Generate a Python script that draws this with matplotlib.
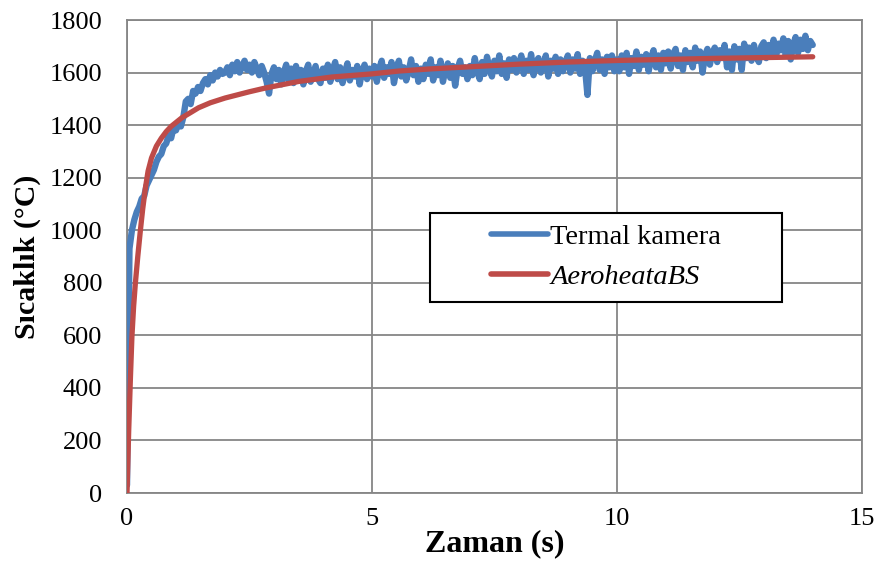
import numpy as np
import matplotlib
matplotlib.use("Agg")
import matplotlib.pyplot as plt
from matplotlib.patches import Rectangle

# Termal kamera: one reading every 0.05 s from 0 to 14 s
dt = 0.05
termal = [
    30, 930, 1000, 1040, 1070, 1090, 1120, 1130, 1170, 1190, 1210, 1230, 1260, 1280, 1290, 1320, 1330, 1360, 1350, 1390,
    1380, 1410, 1395, 1430, 1490, 1500, 1480, 1530, 1520, 1545, 1530, 1560, 1575, 1555, 1590, 1570, 1600, 1585, 1610, 1595,
    1600, 1620, 1590, 1630, 1605, 1640, 1600, 1625, 1645, 1610, 1630, 1600, 1640, 1615, 1590, 1625, 1600, 1565, 1520, 1595,
    1620, 1575, 1610, 1555, 1600, 1630, 1570, 1615, 1560, 1625, 1585, 1610, 1555, 1605, 1630, 1565, 1595, 1625, 1575, 1560,
    1615, 1580, 1630, 1565, 1610, 1640, 1575, 1620, 1560, 1600, 1635, 1570, 1610, 1585, 1625, 1555, 1605, 1630, 1575, 1615,
    1585, 1625, 1565, 1615, 1645, 1580, 1620, 1595, 1640, 1560, 1610, 1645, 1585, 1620, 1570, 1605, 1650, 1590, 1625, 1565,
    1615, 1575, 1630, 1595, 1650, 1570, 1620, 1590, 1645, 1565, 1610, 1635, 1580, 1625, 1550, 1615, 1645, 1595, 1620, 1575,
    1625, 1590, 1655, 1605, 1575, 1640, 1595, 1660, 1615, 1585, 1645, 1605, 1665, 1595, 1635, 1580, 1650, 1610, 1655, 1600,
    1630, 1665, 1595, 1645, 1610, 1670, 1590, 1640, 1655, 1600, 1625, 1665, 1585, 1645, 1615, 1660, 1595, 1650, 1605, 1640,
    1665, 1600, 1650, 1615, 1670, 1595, 1645, 1620, 1515, 1655, 1605, 1645, 1675, 1610, 1650, 1595, 1660, 1620, 1665, 1605,
    1650, 1605, 1665, 1620, 1675, 1595, 1655, 1625, 1680, 1610, 1660, 1630, 1670, 1605, 1655, 1685, 1620, 1665, 1610, 1675,
    1635, 1680, 1615, 1670, 1690, 1625, 1665, 1610, 1685, 1640, 1675, 1620, 1695, 1645, 1680, 1600, 1665, 1690, 1630, 1675,
    1695, 1640, 1685, 1655, 1705, 1620, 1680, 1610, 1700, 1650, 1690, 1610, 1710, 1655, 1695, 1645, 1705, 1660, 1640, 1700,
    1715, 1655, 1705, 1675, 1725, 1660, 1710, 1685, 1730, 1665, 1720, 1650, 1705, 1735, 1675, 1725, 1690, 1740, 1685, 1720,
    1705,
]
t_termal = np.arange(len(termal)) * dt

# AeroheataBS model curve
t_model = [0, 0.035, 0.07, 0.1, 0.135, 0.17, 0.22, 0.27, 0.32, 0.375, 0.43, 0.5,
           0.6, 0.7, 0.8, 0.9, 1.0, 1.12, 1.3, 1.46, 1.7, 2.0, 2.5, 2.82, 3.2,
           3.5, 4.18, 5.0, 5.56, 6.2, 7, 8, 9, 10, 11, 12, 13, 14]
model = [0, 240, 440, 594, 710, 797, 900, 994, 1080, 1160, 1225, 1275,
         1320, 1350, 1375, 1395, 1410, 1428, 1448, 1466, 1485, 1503, 1527, 1541, 1555,
         1566, 1583, 1595, 1606, 1614, 1622, 1632, 1640, 1646, 1650, 1654, 1657, 1660]

labels = ["Termal kamera", "AeroheataBS"]
x_ticks = [0, 5, 10, 15]
y_ticks = list(range(0, 1801, 200))

plt.rcParams["font.family"] = ["Liberation Serif", "DejaVu Serif"]

fig = plt.figure(figsize=(8.82, 5.65), dpi=100)
ax = fig.add_axes([0.144, 0.1274, 0.833, 0.8372])

ax.plot(t_termal, termal, color="#4a7ebb", lw=4.6, solid_capstyle="round",
        solid_joinstyle="round", label=labels[0], zorder=3)
ax.plot(t_model, model, color="#be4b48", lw=3.8, solid_capstyle="round",
        solid_joinstyle="round", label=labels[1], zorder=4)

ax.set_xlim(0, 15)
ax.set_ylim(0, 1800)
ax.set_xticks(x_ticks)
ax.set_yticks(y_ticks)
ax.grid(True, color="#868686", lw=1.3)
ax.set_axisbelow(True)
for s in ax.spines.values():
    s.set_color("#868686")
    s.set_linewidth(1.3)
ax.tick_params(length=0, labelsize=19, colors="black")
ax.tick_params(axis="y", pad=18)
ax.tick_params(axis="x", pad=11)

ax.set_xlabel("Zaman (s)", fontsize=23, fontweight="bold", labelpad=-1)
ax.set_ylabel("Sıcaklık (°C)", fontsize=21.5, fontweight="bold", labelpad=6)

# legend box
ax.add_patch(Rectangle((0.413, 0.404), 0.478, 0.189, transform=ax.transAxes,
                       facecolor="white", edgecolor="black", lw=1.5, zorder=5))
leg = ax.legend(loc="center", bbox_to_anchor=(0.652, 0.4985), frameon=False,
                fontsize=20.5, handlelength=2.0, handletextpad=0.1,
                labelspacing=0.5)
leg.set_zorder(6)
leg.get_texts()[1].set_fontstyle("italic")
for h in leg.legend_handles:
    h.set_linewidth(4)

fig.savefig("out.png", dpi=100)
